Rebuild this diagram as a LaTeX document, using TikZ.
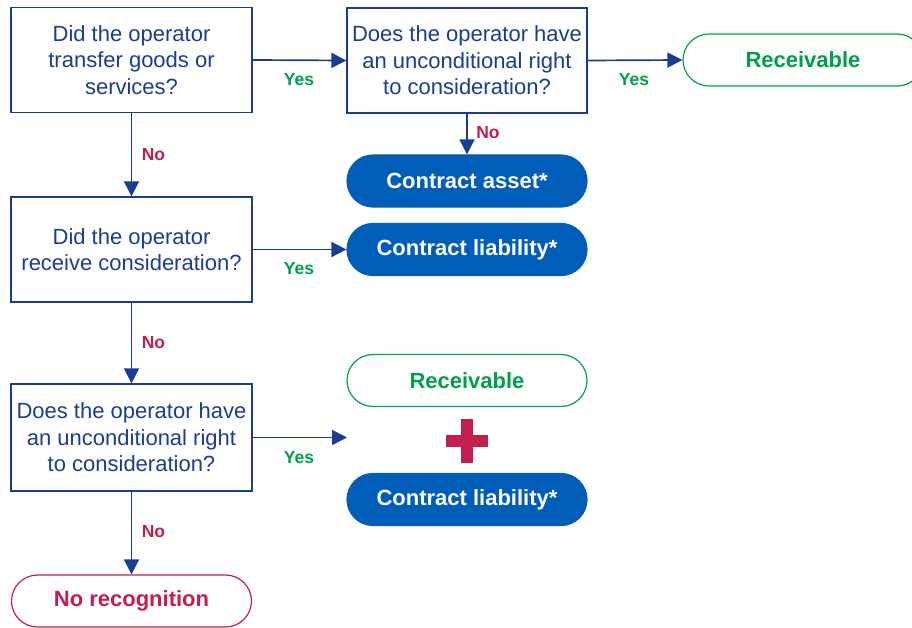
\documentclass[tikz,border=0pt]{standalone}
\usepackage{fontspec}
\setmainfont{Liberation Sans}
\usetikzlibrary{arrows.meta}
\definecolor{navy}{HTML}{1A3C92}
\definecolor{pillblue}{HTML}{005EB8}
\definecolor{okgreen}{HTML}{00A04B}
\definecolor{nored}{HTML}{C41E4E}
\begin{document}
\begin{tikzpicture}[x=1pt,y=-1pt,
  qbox/.style={draw=navy, line width=1.3pt, minimum width=241pt, minimum height=105pt,
    align=center, text=navy, font=\fontsize{22}{26.5}\selectfont, inner sep=0pt},
  pill/.style={rounded corners=26pt, minimum width=240pt, minimum height=52pt,
    font=\fontsize{22}{25}\selectfont\bfseries, inner sep=0pt, line width=1.2pt},
  bluepill/.style={pill, fill=pillblue, draw=pillblue, text=white},
  greenpill/.style={pill, draw=okgreen, text=okgreen},
  redpill/.style={pill, draw=nored, text=nored},
  arr/.style={draw=navy, line width=1.7pt, -{Triangle[length=15pt,width=15pt]}},
  yeslab/.style={text=okgreen, font=\fontsize{17.5}{20}\selectfont\bfseries, inner sep=0pt},
  nolab/.style={text=nored, font=\fontsize{17.5}{20}\selectfont\bfseries, inner sep=0pt},
  plusbar/.style={fill=nored}
]
\clip (0,0) rectangle (912,628);
\node[qbox] (b1) at (131.5,60) {Did the operator\\transfer goods or\\services?};
\node[qbox, minimum width=240pt] (b2) at (467,60.5) {Does the operator have\\an unconditional right\\to consideration?};
\node[greenpill] (r1) at (803,60) {Receivable};
\node[bluepill] (ca) at (467,181) {Contract asset*};
\node[qbox] (b3) at (131.5,249.5) {Did the operator\\receive consideration?};
\node[bluepill] (cl1) at (467,249.5) {Contract liability*};
\node[qbox, minimum height=107pt] (b4) at (131.5,437.5) {Does the operator have\\an unconditional right\\to consideration?};
\node[greenpill] (r2) at (467,380.5) {Receivable};
\node[bluepill] (cl2) at (467,499.5) {Contract liability*};
\node[redpill] (nr) at (131.5,601) {No recognition};
\coordinate (c4end) at (347,437.5);
\fill[plusbar] (446,435) rectangle (488,447);
\fill[plusbar] (461,419) rectangle (473,463);

\draw[arr] (b1.east) -- (b2.west);
\draw[arr] (b2.east) -- (r1.west);
\draw[arr] (b2.south) -- (ca.north);
\draw[arr] (b1.south) -- (b3.north);
\draw[arr] (b3.east) -- (cl1.west);
\draw[arr] (b3.south) -- (b4.north);
\draw[arr] (b4.east) -- (c4end);
\draw[arr] (b4.south) -- (nr.north);

\node[yeslab] (y1) at (299,80) {Yes};
\node[yeslab] (y2) at (634,80) {Yes};
\node[yeslab] (y3) at (299,269) {Yes};
\node[yeslab] (y4) at (299,458) {Yes};
\node[nolab] (n1) at (153.5,155) {No};
\node[nolab] (n2) at (488,133) {No};
\node[nolab] (n3) at (153.5,343) {No};
\node[nolab] (n4) at (153.5,532) {No};
\end{tikzpicture}
\end{document}
